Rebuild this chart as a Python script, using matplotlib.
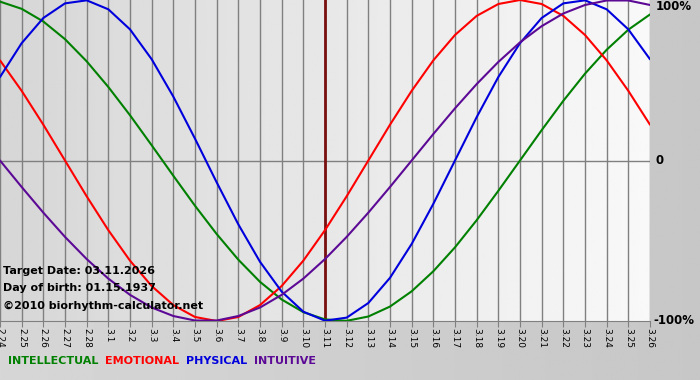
import numpy as np
import matplotlib
matplotlib.use("Agg")
from matplotlib import pyplot as plt

# day labels (2/24 .. 3/26)
days = ["2.24", "2.25", "2.26", "2.27", "2.28",
        "3.1", "3.2", "3.3", "3.4", "3.5", "3.6", "3.7", "3.8", "3.9", "3.10",
        "3.11", "3.12", "3.13", "3.14", "3.15", "3.16", "3.17", "3.18", "3.19",
        "3.20", "3.21", "3.22", "3.23", "3.24", "3.25", "3.26"]
target_idx = 15  # 3.11

# values, -1 .. 1
intellectual = [0.990, 0.945, 0.866, 0.756, 0.618, 0.458, 0.282, 0.095, -0.095, -0.282,
                -0.458, -0.618, -0.756, -0.866, -0.945, -0.990, -0.999, -0.972, -0.910, -0.815,
                -0.690, -0.541, -0.372, -0.189, 0.0, 0.189, 0.372, 0.541, 0.690, 0.815, 0.910]
emotional = [0.624, 0.434, 0.223, 0.0, -0.223, -0.434, -0.624, -0.782, -0.901, -0.975,
             -1.0, -0.975, -0.901, -0.782, -0.624, -0.434, -0.223, 0.0, 0.223, 0.434,
             0.624, 0.782, 0.901, 0.975, 1.0, 0.975, 0.901, 0.782, 0.624, 0.434, 0.223]
physical = [0.520, 0.731, 0.888, 0.979, 0.998, 0.942, 0.817, 0.631, 0.398, 0.136,
            -0.136, -0.398, -0.631, -0.817, -0.942, -0.998, -0.979, -0.888, -0.731, -0.520,
            -0.270, 0.0, 0.270, 0.520, 0.731, 0.888, 0.979, 0.998, 0.942, 0.817, 0.631]
intuitive = [0.0, -0.165, -0.325, -0.476, -0.614, -0.736, -0.837, -0.916, -0.969, -0.997,
             -0.997, -0.969, -0.916, -0.837, -0.736, -0.614, -0.476, -0.325, -0.165, 0.0,
             0.165, 0.325, 0.476, 0.614, 0.736, 0.837, 0.916, 0.969, 0.997, 0.997, 0.969]

names = ["INTELLECTUAL", "EMOTIONAL", "PHYSICAL", "INTUITIVE"]
colors = ["#008000", "#ff0000", "#0000dd", "#5c0a96"]
series = [intellectual, emotional, physical, intuitive]

fig = plt.figure(figsize=(7, 3.8), dpi=100)

# background gradient for whole figure
bg = fig.add_axes([0, 0, 1, 1], zorder=-5)
grad = np.linspace(0, 1, 256)
bg.imshow(np.vstack([grad, grad]) * -0.06 + 0.84, cmap="gray", vmin=0, vmax=1,
          aspect="auto", extent=[0, 1, 0, 1])
bg.axis("off")

ax = fig.add_axes([0, 59 / 380, 650 / 700, 321 / 380])
x = np.arange(len(days))
ax.set_xlim(0, len(days) - 1)
ax.set_ylim(-1.0, 1.0)

# plot area gradient: darker left, white towards right
g = np.linspace(0.84, 0.975, 256)
ax.imshow(np.vstack([g, g]), cmap="gray", vmin=0, vmax=1, aspect="auto",
          extent=[0, len(days) - 1, -1, 1], zorder=0)

for i in x:
    ax.axvline(i, color="#808080", lw=1, zorder=1)
ax.axhline(0, color="#808080", lw=1, zorder=1)
ax.axvline(target_idx, color="#7a0f0f", lw=2, zorder=1)

for vals, c in zip(series, colors):
    ax.plot(x, vals, color=c, lw=1.5, zorder=3, solid_capstyle="round",
            solid_joinstyle="round")

ax.set_xticks(x)
ax.set_xticklabels(days, rotation=270, fontsize=6.5, family="DejaVu Sans")
ax.tick_params(axis="x", length=4, color="#808080", pad=1)
ax.set_yticks([])
for s in ["top", "left", "right"]:
    ax.spines[s].set_visible(False)
ax.spines["bottom"].set_color("#808080")

# right side labels
fig.text(656 / 700, 1 - 7 / 380, "100%", fontsize=8.5, fontweight="bold", va="center", ha="left")
fig.text(656 / 700, 1 - 161 / 380, "0", fontsize=8.5, fontweight="bold", va="center", ha="left")
fig.text(653 / 700, 1 - 321 / 380, "-100%", fontsize=8.5, fontweight="bold", va="center", ha="left")

# info text
fig.text(3 / 700, 1 - 271 / 380, "Target Date: 03.11.2026", fontsize=8, fontweight="bold", va="center")
fig.text(3 / 700, 1 - 288 / 380, "Day of birth: 01.15.1937", fontsize=8, fontweight="bold", va="center")
fig.text(3 / 700, 1 - 306 / 380, "\u00a92010 biorhythm-calculator.net", fontsize=8,
         fontweight="bold", va="center")

# legend row
xpos = 8
for n, c in zip(names, colors):
    t = fig.text(xpos / 700, 1 - 361 / 380, n, color=c, fontsize=8, fontweight="semibold",
                 va="center", ha="left")
    fig.canvas.draw()
    bb = t.get_window_extent()
    xpos = bb.x1 + 7

fig.savefig("out.png", dpi=100)
